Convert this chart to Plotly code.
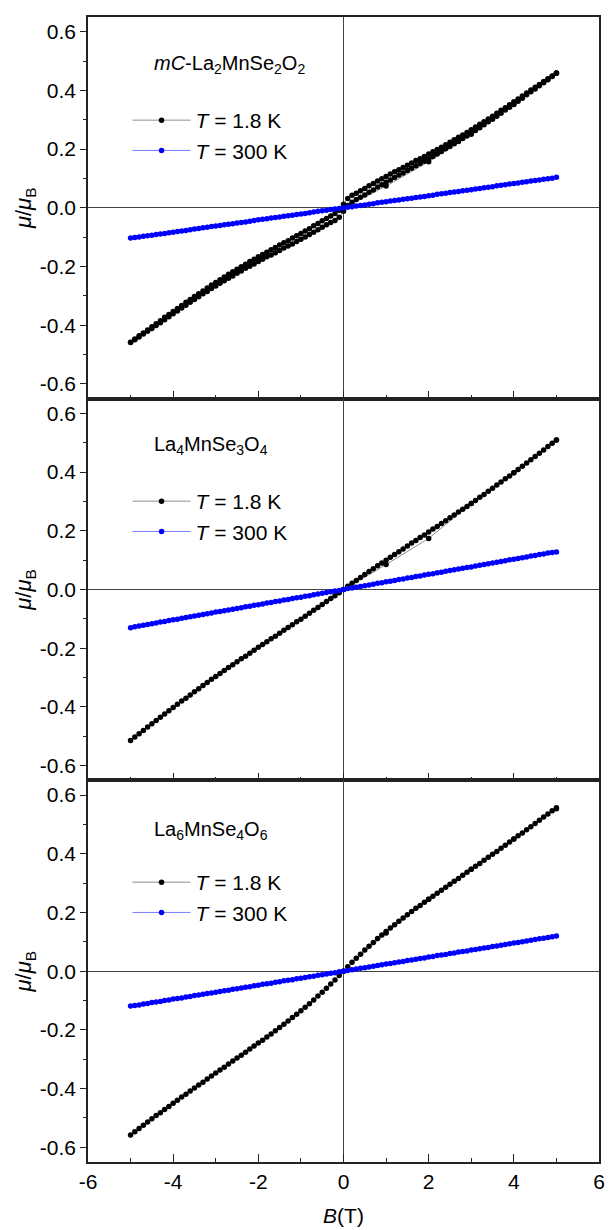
import plotly.graph_objects as go

# ---------------- data ----------------
b_virgin = [0.0, 1.0, 2.0, 3.0, 4.0, 5.0]
b_down = [5.0, 4.9, 4.8, 4.7, 4.6, 4.5, 4.4, 4.3, 4.2, 4.1,
          4.0, 3.9, 3.8, 3.7, 3.6, 3.5, 3.4, 3.3, 3.2, 3.1,
          3.0, 2.9, 2.8, 2.7, 2.6, 2.5, 2.4, 2.3, 2.2, 2.1,
          2.0, 1.9, 1.8, 1.7, 1.6, 1.5, 1.4, 1.3, 1.2, 1.1,
          1.0, 0.9, 0.8, 0.7, 0.6, 0.5, 0.4, 0.3, 0.2, 0.1,
          0.0,
          -0.1, -0.2, -0.3, -0.4, -0.5, -0.6, -0.7, -0.8, -0.9, -1.0,
          -1.1, -1.2, -1.3, -1.4, -1.5, -1.6, -1.7, -1.8, -1.9, -2.0,
          -2.1, -2.2, -2.3, -2.4, -2.5, -2.6, -2.7, -2.8, -2.9, -3.0,
          -3.1, -3.2, -3.3, -3.4, -3.5, -3.6, -3.7, -3.8, -3.9, -4.0,
          -4.1, -4.2, -4.3, -4.4, -4.5, -4.6, -4.7, -4.8, -4.9, -5.0]
b_up = [-5.0, -4.9, -4.8, -4.7, -4.6, -4.5, -4.4, -4.3, -4.2, -4.1,
        -4.0, -3.9, -3.8, -3.7, -3.6, -3.5, -3.4, -3.3, -3.2, -3.1,
        -3.0, -2.9, -2.8, -2.7, -2.6, -2.5, -2.4, -2.3, -2.2, -2.1,
        -2.0, -1.9, -1.8, -1.7, -1.6, -1.5, -1.4, -1.3, -1.2, -1.1,
        -1.0, -0.9, -0.8, -0.7, -0.6, -0.5, -0.4, -0.3, -0.2, -0.1,
        0.0,
        0.1, 0.2, 0.3, 0.4, 0.5, 0.6, 0.7, 0.8, 0.9, 1.0,
        1.1, 1.2, 1.3, 1.4, 1.5, 1.6, 1.7, 1.8, 1.9, 2.0,
        2.1, 2.2, 2.3, 2.4, 2.5, 2.6, 2.7, 2.8, 2.9, 3.0,
        3.1, 3.2, 3.3, 3.4, 3.5, 3.6, 3.7, 3.8, 3.9, 4.0,
        4.1, 4.2, 4.3, 4.4, 4.5, 4.6, 4.7, 4.8, 4.9, 5.0]

# Panel 1: mC-La2MnSe2O2, T = 1.8 K
m1_virgin = [0.000, 0.074, 0.157, 0.251, 0.352, 0.458]
m1_down = [0.459, 0.449, 0.440, 0.430, 0.420, 0.411, 0.401, 0.391, 0.381, 0.371,
           0.361, 0.351, 0.341, 0.332, 0.322, 0.312, 0.303, 0.293, 0.285, 0.275,
           0.266, 0.257, 0.248, 0.240, 0.232, 0.223, 0.215, 0.206, 0.199, 0.191,
           0.183, 0.175, 0.167, 0.161, 0.153, 0.145, 0.137, 0.130, 0.123, 0.115,
           0.107, 0.099, 0.091, 0.083, 0.075, 0.066, 0.058, 0.050, 0.043, 0.032,
           0.012,
           -0.008, -0.019, -0.028, -0.036, -0.044, -0.053, -0.061, -0.071, -0.079, -0.087,
           -0.095, -0.103, -0.112, -0.119, -0.127, -0.135, -0.143, -0.151, -0.159, -0.167,
           -0.175, -0.183, -0.192, -0.201, -0.209, -0.218, -0.226, -0.236, -0.245, -0.254,
           -0.263, -0.273, -0.283, -0.293, -0.302, -0.312, -0.322, -0.333, -0.343, -0.353,
           -0.363, -0.373, -0.385, -0.395, -0.405, -0.416, -0.426, -0.436, -0.447, -0.458]
m1_up = [-0.459, -0.449, -0.440, -0.430, -0.420, -0.411, -0.401, -0.391, -0.381, -0.371,
         -0.361, -0.351, -0.341, -0.332, -0.322, -0.312, -0.303, -0.293, -0.285, -0.275,
         -0.266, -0.257, -0.248, -0.240, -0.232, -0.223, -0.215, -0.206, -0.199, -0.191,
         -0.183, -0.175, -0.167, -0.161, -0.153, -0.145, -0.137, -0.130, -0.123, -0.115,
         -0.107, -0.099, -0.091, -0.083, -0.075, -0.066, -0.058, -0.050, -0.043, -0.032,
         -0.012,
         0.008, 0.019, 0.028, 0.036, 0.044, 0.053, 0.061, 0.071, 0.079, 0.087,
         0.095, 0.103, 0.112, 0.119, 0.127, 0.135, 0.143, 0.151, 0.159, 0.167,
         0.175, 0.183, 0.192, 0.201, 0.209, 0.218, 0.226, 0.236, 0.245, 0.254,
         0.263, 0.273, 0.283, 0.293, 0.302, 0.312, 0.322, 0.333, 0.343, 0.353,
         0.363, 0.373, 0.385, 0.395, 0.405, 0.416, 0.426, 0.436, 0.447, 0.458]
# Panel 1: T = 300 K (b_up order)
m1_300 = [-0.103, -0.101, -0.099, -0.097, -0.095, -0.093, -0.091, -0.089, -0.087, -0.085,
          -0.083, -0.081, -0.079, -0.077, -0.075, -0.072, -0.070, -0.068, -0.066, -0.064,
          -0.062, -0.060, -0.058, -0.056, -0.054, -0.052, -0.050, -0.048, -0.046, -0.043,
          -0.041, -0.039, -0.037, -0.035, -0.033, -0.031, -0.029, -0.027, -0.025, -0.023,
          -0.021, -0.019, -0.017, -0.014, -0.012, -0.010, -0.008, -0.006, -0.004, -0.002,
          0.000,
          0.002, 0.004, 0.006, 0.008, 0.010, 0.012, 0.014, 0.017, 0.019, 0.021,
          0.023, 0.025, 0.027, 0.029, 0.031, 0.033, 0.035, 0.037, 0.039, 0.041,
          0.043, 0.046, 0.048, 0.050, 0.052, 0.054, 0.056, 0.058, 0.060, 0.062,
          0.064, 0.066, 0.068, 0.070, 0.072, 0.075, 0.077, 0.079, 0.081, 0.083,
          0.085, 0.087, 0.089, 0.091, 0.093, 0.095, 0.097, 0.099, 0.101, 0.104]

# Panel 2: La4MnSe3O4, T = 1.8 K
m2_virgin = [0.000, 0.085, 0.174, 0.293, 0.398, 0.509]
m2_down = [0.509, 0.498, 0.487, 0.475, 0.464, 0.453, 0.442, 0.431, 0.420, 0.409,
           0.398, 0.387, 0.377, 0.366, 0.356, 0.345, 0.335, 0.324, 0.314, 0.303,
           0.293, 0.283, 0.273, 0.264, 0.254, 0.244, 0.234, 0.225, 0.215, 0.206,
           0.196, 0.186, 0.177, 0.167, 0.158, 0.148, 0.138, 0.129, 0.119, 0.110,
           0.100, 0.090, 0.081, 0.071, 0.061, 0.051, 0.041, 0.031, 0.021, 0.011,
           0.000,
           -0.011, -0.021, -0.031, -0.041, -0.051, -0.061, -0.071, -0.081, -0.091, -0.101,
           -0.110, -0.120, -0.129, -0.139, -0.149, -0.159, -0.168, -0.178, -0.187, -0.197,
           -0.207, -0.217, -0.227, -0.236, -0.246, -0.256, -0.266, -0.276, -0.286, -0.296,
           -0.306, -0.317, -0.327, -0.338, -0.348, -0.359, -0.370, -0.380, -0.391, -0.402,
           -0.413, -0.424, -0.435, -0.446, -0.457, -0.468, -0.480, -0.491, -0.502, -0.514]
m2_300 = [-0.130, -0.127, -0.124, -0.122, -0.119, -0.117, -0.114, -0.111, -0.109, -0.106,
          -0.103, -0.101, -0.098, -0.095, -0.093, -0.090, -0.088, -0.085, -0.083, -0.080,
          -0.077, -0.075, -0.072, -0.070, -0.067, -0.065, -0.062, -0.059, -0.057, -0.054,
          -0.052, -0.049, -0.046, -0.044, -0.041, -0.039, -0.036, -0.034, -0.031, -0.028,
          -0.026, -0.023, -0.021, -0.018, -0.015, -0.013, -0.010, -0.008, -0.005, -0.003,
          0.000,
          0.003, 0.005, 0.008, 0.010, 0.013, 0.015, 0.018, 0.021, 0.023, 0.026,
          0.028, 0.031, 0.034, 0.036, 0.039, 0.041, 0.044, 0.046, 0.049, 0.052,
          0.054, 0.057, 0.059, 0.062, 0.065, 0.067, 0.070, 0.072, 0.075, 0.077,
          0.080, 0.083, 0.085, 0.088, 0.090, 0.093, 0.095, 0.098, 0.101, 0.103,
          0.106, 0.108, 0.111, 0.114, 0.116, 0.119, 0.121, 0.124, 0.126, 0.128]

# Panel 3: La6MnSe4O6, T = 1.8 K
m3_virgin = [0.000, 0.130, 0.245, 0.347, 0.450, 0.553]
m3_down = [0.557, 0.546, 0.535, 0.525, 0.514, 0.503, 0.492, 0.482, 0.471, 0.461,
           0.450, 0.440, 0.429, 0.419, 0.408, 0.398, 0.388, 0.378, 0.367, 0.357,
           0.347, 0.337, 0.327, 0.316, 0.306, 0.296, 0.286, 0.276, 0.265, 0.255,
           0.245, 0.235, 0.224, 0.214, 0.203, 0.192, 0.181, 0.170, 0.158, 0.147,
           0.135, 0.123, 0.111, 0.098, 0.085, 0.072, 0.058, 0.044, 0.030, 0.015,
           0.000,
           -0.015, -0.030, -0.044, -0.058, -0.072, -0.085, -0.098, -0.111, -0.123, -0.135,
           -0.147, -0.158, -0.170, -0.181, -0.192, -0.203, -0.214, -0.224, -0.235, -0.245,
           -0.255, -0.265, -0.276, -0.286, -0.296, -0.306, -0.316, -0.327, -0.337, -0.347,
           -0.357, -0.367, -0.378, -0.388, -0.398, -0.408, -0.419, -0.429, -0.440, -0.450,
           -0.461, -0.471, -0.482, -0.492, -0.503, -0.514, -0.525, -0.536, -0.547, -0.558]
m3_300 = [-0.119, -0.117, -0.115, -0.112, -0.110, -0.107, -0.105, -0.103, -0.100, -0.098,
          -0.095, -0.093, -0.091, -0.088, -0.086, -0.083, -0.081, -0.079, -0.076, -0.074,
          -0.072, -0.069, -0.067, -0.065, -0.062, -0.060, -0.057, -0.055, -0.053, -0.050,
          -0.048, -0.045, -0.043, -0.041, -0.038, -0.036, -0.033, -0.031, -0.029, -0.026,
          -0.024, -0.022, -0.019, -0.017, -0.014, -0.012, -0.010, -0.007, -0.005, -0.002,
          0.000,
          0.002, 0.005, 0.007, 0.010, 0.012, 0.014, 0.017, 0.019, 0.022, 0.024,
          0.026, 0.029, 0.031, 0.033, 0.036, 0.038, 0.041, 0.043, 0.045, 0.048,
          0.050, 0.053, 0.055, 0.057, 0.060, 0.062, 0.065, 0.067, 0.069, 0.072,
          0.074, 0.076, 0.079, 0.081, 0.084, 0.086, 0.088, 0.091, 0.093, 0.096,
          0.098, 0.100, 0.103, 0.105, 0.108, 0.110, 0.112, 0.115, 0.117, 0.120]

for arr in (m1_down, m1_up, m1_300, m2_down, m2_300, m3_down, m3_300):
    assert len(arr) == 101, len(arr)

panel_names = ["<i>mC</i>-La<sub>2</sub>MnSe<sub>2</sub>O<sub>2</sub>",
               "La<sub>4</sub>MnSe<sub>3</sub>O<sub>4</sub>",
               "La<sub>6</sub>MnSe<sub>4</sub>O<sub>6</sub>"]
series_names = ["<i>T</i> = 1.8 K", "<i>T</i> = 300 K"]

x_tickvals = [-6, -4, -2, 0, 2, 4, 6]
x_ticktext = ["-6", "-4", "-2", "0", "2", "4", "6"]
y_tickvals = [-0.6, -0.4, -0.2, 0.0, 0.2, 0.4, 0.6]
y_ticktext = ["-0.6", "-0.4", "-0.2", "0.0", "0.2", "0.4", "0.6"]

# ---------------- figure ----------------
FONT = "Liberation Sans, Arial, sans-serif"
AX = "#222222"

panels = [
    (b_virgin + b_down + b_up, m1_virgin + m1_down + m1_up, b_up, m1_300),
    (b_virgin + b_down, m2_virgin + m2_down, b_up, m2_300),
    (b_virgin + b_down, m3_virgin + m3_down, b_up, m3_300),
]
legend_ids = ["legend", "legend2", "legend3"]

fig = go.Figure()
for i, (bx, my, bx3, my3) in enumerate(panels):
    sfx = "" if i == 0 else str(i + 1)
    fig.add_trace(go.Scatter(
        x=bx, y=my, mode="lines+markers", name=series_names[0],
        xaxis="x" + sfx, yaxis="y" + sfx, legend=legend_ids[i],
        line=dict(color="#707070", width=0.8),
        marker=dict(color="black", size=5.5, line=dict(width=0)),
    ))
    fig.add_trace(go.Scatter(
        x=bx3, y=my3, mode="lines+markers", name=series_names[1],
        xaxis="x" + sfx, yaxis="y" + sfx, legend=legend_ids[i],
        line=dict(color="#5a5aff", width=0.8),
        marker=dict(color="#0000ff", size=5.5, line=dict(width=0)),
    ))

domains = [[2 / 3, 1.0], [1 / 3, 2 / 3], [0.0, 1 / 3]]
layout = dict(
    width=609, height=1230,
    margin=dict(l=88, r=4, t=17, b=68),
    paper_bgcolor="white", plot_bgcolor="white",
    font=dict(family=FONT, size=20, color="black"),
    showlegend=True,
)
for i in range(3):
    sfx = "" if i == 0 else str(i + 1)
    layout["xaxis" + sfx] = dict(
        anchor="y" + sfx, range=[-6, 6], matches=None if i == 0 else "x",
        tickmode="array", tickvals=x_tickvals, ticktext=x_ticktext,
        showticklabels=(i == 2), ticks="inside", ticklen=8, tickwidth=1.2, tickcolor=AX,
        minor=dict(tickmode="linear", tick0=0, dtick=1, ticks="inside", ticklen=4,
                   tickwidth=1.2, tickcolor=AX),
        showline=True, linecolor=AX, linewidth=1.5, mirror=True,
        showgrid=False, zeroline=True, zerolinecolor="#444444", zerolinewidth=1.2,
        tickfont=dict(size=21),
        title=dict(text="<i>B</i>(T)" if i == 2 else "", font=dict(size=21), standoff=16),
    )
    layout["yaxis" + sfx] = dict(
        anchor="x" + sfx, domain=domains[i], range=[-0.65, 0.65],
        tickmode="array", tickvals=y_tickvals, ticktext=y_ticktext,
        ticks="outside", ticklen=6, tickwidth=1.2, tickcolor=AX,
        minor=dict(tickmode="linear", tick0=0, dtick=0.1, ticks="outside", ticklen=3,
                   tickwidth=1.2, tickcolor=AX),
        showline=True, linecolor=AX, linewidth=1.5, mirror=True,
        showgrid=False, zeroline=True, zerolinecolor="#444444", zerolinewidth=1.2,
        tickfont=dict(size=21),
        title=dict(text="<i>μ</i>/<i>μ</i><sub>B</sub>", font=dict(size=22), standoff=2),
    )

# legends and compound labels placed per panel (paper coordinates)
def ypaper(px):
    return 1 - (px - 17) / 1145

def xpaper(px):
    return (px - 88) / 517

legend_tops = [100, 481, 862]
name_y = [65, 445, 830]
for i in range(3):
    layout[legend_ids[i]] = dict(
        x=xpaper(128), y=ypaper(legend_tops[i]), xanchor="left", yanchor="top",
        bgcolor="rgba(0,0,0,0)", borderwidth=0, font=dict(size=21),
        tracegroupgap=0, itemwidth=58,
    )
fig.update_layout(**layout)

for i in range(3):
    fig.add_annotation(
        text=panel_names[i], xref="paper", yref="paper",
        x=xpaper(153), y=ypaper(name_y[i]), xanchor="left", yanchor="middle",
        showarrow=False, font=dict(size=20, family=FONT),
    )

fig.write_html("out.html")
